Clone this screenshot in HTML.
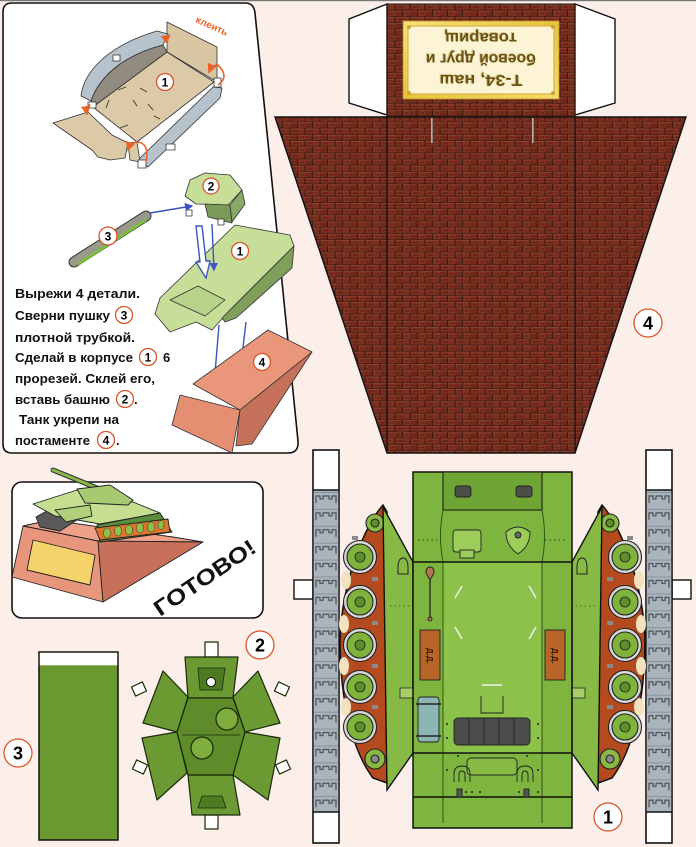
<!DOCTYPE html>
<html><head><meta charset="utf-8"><style>
html,body{margin:0;padding:0;background:#fcefe9;}
svg{display:block;}
text{font-family:"Liberation Sans","DejaVu Sans",sans-serif;}
</style></head><body>
<svg width="696" height="847" viewBox="0 0 696 847" xmlns="http://www.w3.org/2000/svg">
<defs>
<pattern id="brick" width="15" height="12.4" patternUnits="userSpaceOnUse" x="275" y="4">
<rect width="15" height="12.4" fill="#3c1c14"/>
<rect x="0.6" y="0.6" width="13.8" height="5.3" fill="#7c2e1e"/>
<rect x="-6.9" y="6.8" width="13.8" height="5.3" fill="#70281a"/>
<rect x="8.1" y="6.8" width="13.8" height="5.3" fill="#833221"/>
<path d="M0.6,0.9 h13.8 M-6.9,7.1 h13.8 M8.1,7.1 h13.8" stroke="#a24d38" stroke-width="0.6"/>
<rect x="3" y="2" width="5" height="2" fill="#5a2016" opacity="0.6"/>
<rect x="10" y="8.5" width="4" height="2" fill="#5a2016" opacity="0.6"/>
</pattern>
<pattern id="tread" x="313" y="490" width="26" height="16.9" patternUnits="userSpaceOnUse">
<rect width="26" height="16.9" fill="#a9b4bc"/>
<path d="M3,13 V6 h4 v3 h3 v-3 h6 v3 h3 v-3 h4 V13" fill="none" stroke="#4b5157" stroke-width="1.2"/>
<path d="M0,2.5 h26" stroke="#7d878f" stroke-width="0.8"/>
</pattern>
<linearGradient id="gold" x1="0" y1="0" x2="1" y2="1">
<stop offset="0" stop-color="#f7e27a"/><stop offset="0.5" stop-color="#e8c43c"/><stop offset="1" stop-color="#f5dc6a"/>
</linearGradient>
<marker id="ah" markerWidth="6" markerHeight="6" refX="5" refY="3" orient="auto"><path d="M0,0 L6,3 L0,6 Z" fill="#3b55c0"/></marker>
<marker id="oh" markerWidth="6" markerHeight="6" refX="5" refY="3" orient="auto"><path d="M0,0 L6,3 L0,6 Z" fill="#e8642a"/></marker>
</defs>

<rect width="696" height="847" fill="#fcefe9"/>
<rect width="696" height="1.2" fill="#777"/>

<!-- ===== Instruction panel ===== -->
<path d="M3,12 Q3,3 12,3 L245,3 Q254,3 255,13 L298,441 Q299,453 288,453 L12,453 Q3,453 3,444 Z" fill="#fff" stroke="#111" stroke-width="1.6"/>

<!-- flat hull net (tan) -->
<g stroke="#333" stroke-width="0.8" stroke-linejoin="round">
<path d="M167,22 L217,47 L217,82 L167,52 Z" fill="#d8c5a2"/>
<path d="M81,96 C84,70 110,45 157,31 L168,34 L163,45 C125,55 100,75 91,101 Z" fill="#b7c3cc"/>
<path d="M91,101 C100,75 125,55 163,45 L167,52 L93,107 Z" fill="#918b80"/>
<path d="M93,107 L167,52 L214,82 L137,142 Z" fill="#dcc9a8"/>
<path d="M138,160 L213,87 L222,88 L220,98 L148,167 Z" fill="#b7c3cc"/>
<path d="M53,123 L88,112 L112,135 L128,143 L125,158 L110,160 L98,157 L92,150 L63,130 Z" fill="#dcc9a8"/>
<path d="M128,143 L137,142 L140,162 L130,160 Z" fill="#dcc9a8"/>
<rect x="138" y="160" width="8" height="8" fill="#fff"/>
<rect x="166" y="144" width="9" height="6" fill="#fff"/>
<rect x="113" y="55" width="7" height="6" fill="#fff"/>
<rect x="88" y="102" width="8" height="6" fill="#fff"/>
<rect x="214" y="78" width="7" height="9" fill="#fff"/>
</g>
<g stroke="#333" stroke-width="0.9" fill="none">
<path d="M118,90 l8,-3 M140,88 l7,4 M106,108 l3,-8 M148,104 l5,6 M120,128 l8,-3 M154,116 l6,3 M133,100 l4,6"/>
</g>
<g fill="none" stroke="#e8642a" stroke-width="1.6">
<path d="M170,36 q-4,2 -3,7" marker-end="url(#oh)"/>
<path d="M218,85 q12,-8 0,-20 q-6,0 -9,7" marker-end="url(#oh)"/>
<path d="M90,104 q-4,4 -3,10" marker-end="url(#oh)"/>
<path d="M146,162 q4,-20 -10,-20 q-6,2 -8,8" marker-end="url(#oh)"/>
</g>
<text x="195" y="22" font-size="10" font-weight="bold" fill="#e8642a" transform="rotate(24 195 22)">клеить</text>
<circle cx="165" cy="82" r="8.5" fill="#fff" stroke="#d9542a" stroke-width="1.3"/>
<text x="165" y="86.5" font-size="12" font-weight="bold" text-anchor="middle">1</text>

<!-- turret 3D -->
<g stroke="#333" stroke-width="0.8" stroke-linejoin="round">
<path d="M190,180 L205,173 L230,175 L242,190 L228,205 L196,204 L185,196 Z" fill="#c6de98"/>
<path d="M205,204 L230,205 L232,223 L208,217 Z" fill="#7a9a5a"/>
<path d="M230,205 L242,190 L245,204 L232,222 Z" fill="#8aa866"/>
<rect x="186" y="210" width="6" height="6" fill="#fff"/>
<rect x="218" y="219" width="6" height="6" fill="#fff"/>
</g>
<circle cx="211" cy="186" r="8" fill="#fff" stroke="#d9542a" stroke-width="1.3"/>
<text x="211" y="190.5" font-size="12" font-weight="bold" text-anchor="middle">2</text>
<!-- gun roll -->
<path d="M74,262 L146,216" stroke="#333" stroke-width="11" stroke-linecap="round"/>
<path d="M74,262 L146,216" stroke="#9a9a8a" stroke-width="9" stroke-linecap="round"/>
<path d="M78,264 L146,220" stroke="#7bbd3f" stroke-width="3"/>
<circle cx="108" cy="236" r="9" fill="#fff" stroke="#d9542a" stroke-width="1.3"/>
<text x="108" y="240.5" font-size="12" font-weight="bold" text-anchor="middle">3</text>
<!-- hull 3D -->
<g stroke="#333" stroke-width="0.8" stroke-linejoin="round">
<path d="M160,298 L235,225 L290,235 L294,246 L230,310 L212,330 L196,322 L170,332 L155,314 Z" fill="#c6de98"/>
<path d="M222,318 L294,246 L292,268 L236,318 L225,322 Z" fill="#7f9f5a"/>
<path d="M170,300 L198,286 L225,300 L205,316 Z" fill="#b7d289"/>
</g>
<circle cx="240" cy="251" r="8.5" fill="#fff" stroke="#d9542a" stroke-width="1.3"/>
<text x="240" y="255.5" font-size="12" font-weight="bold" text-anchor="middle">1</text>
<!-- blue arrows -->
<g stroke="#3b55c0" stroke-width="1.4" fill="none">
<path d="M150,213 L192,206" marker-end="url(#ah)"/>
<path d="M212,224 L214,270" marker-end="url(#ah)"/>
<path d="M219,325 L214,385" marker-end="url(#ah)"/>
<path d="M246,322 L237,398" marker-end="url(#ah)"/>
<path d="M196,226 L200,262 L196,262 L206,278 L210,261 L206,261 L202,226 Z" fill="#fff"/>
</g>
<!-- pedestal 3D -->
<g stroke="#333" stroke-width="0.8" stroke-linejoin="round">
<path d="M193,384 L268,330 L312,352 L240,410 Z" fill="#e9967a"/>
<path d="M180,395 L240,410 L232,453 L172,425 Z" fill="#e58f72"/>
<path d="M240,410 L312,352 L252,444 L236,446 Z" fill="#c4705a"/>
</g>
<circle cx="262" cy="362" r="8.5" fill="#fff" stroke="#d9542a" stroke-width="1.3"/>
<text x="262" y="366.5" font-size="12" font-weight="bold" text-anchor="middle">4</text>

<!-- instruction text -->
<g font-size="13" font-weight="bold" fill="#111">
<text x="15" y="298" textLength="125" lengthAdjust="spacingAndGlyphs">Вырежи 4 детали.</text>
<text x="15" y="320" textLength="95" lengthAdjust="spacingAndGlyphs">Сверни пушку</text>
<text x="15" y="342" textLength="120" lengthAdjust="spacingAndGlyphs">плотной трубкой.</text>
<text x="15" y="362" textLength="118" lengthAdjust="spacingAndGlyphs">Сделай в корпусе</text>
<text x="163" y="362">6</text>
<text x="15" y="383" textLength="140" lengthAdjust="spacingAndGlyphs">прорезей. Склей его,</text>
<text x="15" y="404" textLength="95" lengthAdjust="spacingAndGlyphs">вставь башню</text>
<text x="134" y="404">.</text>
<text x="19" y="424" textLength="100" lengthAdjust="spacingAndGlyphs">Танк укрепи на</text>
<text x="15" y="445" textLength="75" lengthAdjust="spacingAndGlyphs">постаменте</text>
<text x="116" y="445">.</text>
</g>
<g font-size="12" font-weight="bold" text-anchor="middle">
<circle cx="124" cy="315" r="8.5" fill="#fff" stroke="#d9542a" stroke-width="1.3"/><text x="124" y="319.5">3</text>
<circle cx="148" cy="357" r="8.5" fill="#fff" stroke="#d9542a" stroke-width="1.3"/><text x="148" y="361.5">1</text>
<circle cx="125" cy="399" r="8.5" fill="#fff" stroke="#d9542a" stroke-width="1.3"/><text x="125" y="403.5">2</text>
<circle cx="106" cy="440" r="8.5" fill="#fff" stroke="#d9542a" stroke-width="1.3"/><text x="106" y="444.5">4</text>
</g>

<!-- ===== Brick pedestal net ④ ===== -->
<path d="M387,4 L349,19 L349,103 L387,115 Z" fill="#fff" stroke="#111" stroke-width="1.4"/>
<path d="M575,4 L615,19 L615,103 L575,115 Z" fill="#fff" stroke="#111" stroke-width="1.4"/>
<rect x="387" y="4" width="188" height="113" fill="url(#brick)" stroke="#111" stroke-width="1"/>
<path d="M275,117 L686,117 L575,453 L387,453 Z" fill="url(#brick)" stroke="#111" stroke-width="1.4"/>
<path d="M387,117 V453 M575,117 V453" stroke="#111" stroke-width="1.2"/>
<path d="M432,118 V143 M533,118 V143" stroke="#ddd" stroke-width="1.4"/>
<path d="M432,118 V143 M533,118 V143" stroke="#111" stroke-width="0.4" transform="translate(0.8,0)"/>
<!-- plaque -->
<rect x="403" y="21" width="156" height="78" fill="url(#gold)" stroke="#b8922a" stroke-width="0.8"/>
<rect x="408" y="26" width="146" height="68" rx="3" fill="#fcf4d4" stroke="#d8b448" stroke-width="1.2"/>
<g fill="#c9a235"><circle cx="409" cy="27" r="2"/><circle cx="553" cy="27" r="2"/><circle cx="409" cy="93" r="2"/><circle cx="553" cy="93" r="2"/></g>
<g transform="rotate(180 481 60)" font-size="16" font-weight="bold" text-anchor="middle">
<text x="482" y="46" fill="#d8c89a" textLength="83" lengthAdjust="spacingAndGlyphs">Т-34, наш</text>
<text x="481" y="45" fill="#6a5410" textLength="83" lengthAdjust="spacingAndGlyphs">Т-34, наш</text>
<text x="482" y="67" fill="#d8c89a" textLength="110" lengthAdjust="spacingAndGlyphs">боевой друг и</text>
<text x="481" y="66" fill="#6a5410" textLength="110" lengthAdjust="spacingAndGlyphs">боевой друг и</text>
<text x="482" y="88" fill="#d8c89a" textLength="72" lengthAdjust="spacingAndGlyphs">товарищ</text>
<text x="481" y="87" fill="#6a5410" textLength="72" lengthAdjust="spacingAndGlyphs">товарищ</text>
</g>
<circle cx="648" cy="323" r="14" fill="#fff" stroke="#d9542a" stroke-width="1.3"/>
<text x="648" y="329.5" font-size="18" font-weight="bold" text-anchor="middle">4</text>

<!-- ===== ГОТОВО panel ===== -->
<rect x="12" y="482" width="251" height="136" rx="10" fill="#fff" stroke="#111" stroke-width="1.6"/>
<g stroke="#222" stroke-width="0.9" stroke-linejoin="round">
<path d="M23,526 L50,520 L173,537 L203,542 L98,541 Z" fill="#eda08a"/>
<path d="M23,526 L98,541 L103,602 L12,577 Z" fill="#e8967b"/>
<path d="M98,541 L203,542 L103,602 Z" fill="#c9705a"/>
<path d="M33,540 L95,555 L90,585 L27,570 Z" fill="#f5d36a"/>
<!-- tank -->
<path d="M53,470 L97,488" stroke="#333" stroke-width="5" stroke-linecap="round"/>
<path d="M53,470 L97,488" stroke="#8ab64a" stroke-width="3" stroke-linecap="round"/>
<path d="M36,517 L52,508 L80,518 L60,531 L40,527 Z" fill="#5a5a58"/>
<path d="M33,504 L77,490 L133,502 L160,513 L100,524 L55,516 Z" fill="#c5de8f"/>
<path d="M77,489 L110,485 L133,500 L128,505 L85,503 Z" fill="#a7c970"/>
<path d="M55,510 L90,505 L92,516 L66,522 Z" fill="#b1d07a"/>
<path d="M97,525 L160,513 L172,532 L100,542 Z" fill="#5a8e3a"/>
<path d="M95,528 L168,519 L170,532 L100,540 Z" fill="#d9762e"/>
</g>
<g fill="#8ec14b" stroke="#333" stroke-width="0.5">
<ellipse cx="107" cy="533" rx="3.5" ry="5"/><ellipse cx="118" cy="531" rx="3.5" ry="5"/><ellipse cx="129" cy="530" rx="3.5" ry="5"/><ellipse cx="140" cy="528" rx="3.5" ry="5"/><ellipse cx="151" cy="527" rx="3.5" ry="5"/><ellipse cx="161" cy="525" rx="3" ry="4.5"/>
</g>
<text x="160" y="617" font-size="22" font-weight="bold" fill="#111" transform="rotate(-34 160 617)" textLength="118" lengthAdjust="spacingAndGlyphs">ГОТОВО!</text>

<!-- ===== gun strip ③ ===== -->
<rect x="39" y="652" width="79" height="188" fill="#6a9a2f" stroke="#111" stroke-width="1.5"/>
<rect x="39.8" y="652.8" width="77.4" height="12.5" fill="#fff"/>
<circle cx="18" cy="753" r="14" fill="#fff" stroke="#d9542a" stroke-width="1.3"/>
<text x="18" y="759.5" font-size="18" font-weight="bold" text-anchor="middle">3</text>

<!-- ===== turret net ② ===== -->
<g stroke="#1a2a0a" stroke-width="1.2" stroke-linejoin="round">
<rect x="205" y="642" width="13" height="15" fill="#fff"/>
<rect x="205" y="815" width="13" height="14" fill="#fff"/>
<rect x="133" y="684" width="12" height="10" fill="#fff" transform="rotate(-25 139 689)"/>
<rect x="134" y="762" width="12" height="10" fill="#fff" transform="rotate(25 140 767)"/>
<rect x="276" y="684" width="12" height="10" fill="#fff" transform="rotate(25 282 689)"/>
<rect x="277" y="762" width="12" height="10" fill="#fff" transform="rotate(-25 283 767)"/>
<path d="M185,657 L238,657 L233,698 L188,698 Z" fill="#6c9a32"/>
<path d="M188,775 L233,775 L240,815 L192,815 Z" fill="#6c9a32"/>
<path d="M163,671 L188,697 L177,732 L143,723 Z" fill="#6c9a32"/>
<path d="M142,738 L177,732 L187,773 L157,800 Z" fill="#6c9a32"/>
<path d="M258,671 L233,697 L245,732 L280,723 Z" fill="#6c9a32"/>
<path d="M280,738 L245,732 L233,775 L268,800 Z" fill="#6c9a32"/>
<path d="M188,698 L233,698 L245,732 L233,775 L188,775 L177,732 Z" fill="#5f8c2a"/>
<path d="M198,668 L225,668 L222,690 L200,690 Z" fill="#4e7a22" stroke-width="0.8"/>
<path d="M198,808 L202,796 L222,796 L226,808 Z" fill="#4e7a22" stroke-width="0.8"/>
<path d="M182,735 L240,735" fill="none" stroke-width="0.8"/>
<circle cx="227" cy="719" r="11" fill="#7fae3e"/>
<circle cx="202" cy="748" r="11" fill="#7fae3e"/>
</g>
<circle cx="211" cy="682" r="4.5" fill="#fff" stroke="#111" stroke-width="1"/>
<circle cx="260" cy="645" r="14" fill="#fff" stroke="#d9542a" stroke-width="1.3"/>
<text x="260" y="651.5" font-size="18" font-weight="bold" text-anchor="middle">2</text>

<!-- ===== hull net ① ===== -->
<g id="side">
<rect x="294" y="580" width="19" height="19" fill="#fff" stroke="#111" stroke-width="1.4"/>
<rect x="313" y="450" width="26" height="393" fill="#fff" stroke="#111" stroke-width="1.6"/>
<rect x="313.8" y="490" width="24.4" height="322" fill="url(#tread)"/>
<path d="M313,490 H339 M313,812 H339" stroke="#111" stroke-width="1.4"/>
<path d="M383,505 C365,525 342,580 340,640 C340,700 352,750 373,778 L387,783 L387,512 Z" fill="#b54a1e" stroke="#111" stroke-width="1.5"/>
<g fill="#f2e2c0">
<ellipse cx="346" cy="580" rx="5" ry="9"/><ellipse cx="344" cy="624" rx="5" ry="9"/><ellipse cx="344" cy="666" rx="5" ry="9"/><ellipse cx="346" cy="707" rx="5" ry="9"/>
</g>
<g fill="#8a8a8a"><rect x="372" y="577" width="6" height="4"/><rect x="372" y="621" width="6" height="4"/><rect x="372" y="664" width="6" height="4"/><rect x="372" y="705" width="6" height="4"/><rect x="352" y="536" width="6" height="4"/></g>
<g stroke="#222" stroke-width="1.1">
<circle cx="375" cy="523" r="9" fill="#8ab845"/><circle cx="375" cy="523" r="4" fill="#5d8f2a"/>
<circle cx="375" cy="759" r="10" fill="#8ab845"/><circle cx="375" cy="759" r="4" fill="#888"/>
<g fill="#d8d8d8"><circle cx="360" cy="557" r="16.5"/><circle cx="360" cy="602" r="16.5"/><circle cx="360" cy="645" r="16.5"/><circle cx="360" cy="687" r="16.5"/><circle cx="360" cy="727" r="16.5"/></g>
<g fill="#7fb33c"><circle cx="360" cy="557" r="13"/><circle cx="360" cy="602" r="13"/><circle cx="360" cy="645" r="13"/><circle cx="360" cy="687" r="13"/><circle cx="360" cy="727" r="13"/></g>
<g fill="#5d8f2a" stroke-width="0.8"><circle cx="360" cy="557" r="5"/><circle cx="360" cy="602" r="5"/><circle cx="360" cy="645" r="5"/><circle cx="360" cy="687" r="5"/><circle cx="360" cy="727" r="5"/></g>
</g>
<path d="M383,507 L413,562 L413,753 L387,790 Z" fill="#86ba45" stroke="#111" stroke-width="1.4"/>
<path d="M398,568 q0,-10 5,-10 q5,0 5,10 v6 h-10 Z" fill="none" stroke="#222" stroke-width="1"/>
<path d="M400,688 h13 v10 h-13 Z" fill="#a6d065" stroke="#222" stroke-width="0.8"/>
<path d="M390,606 h22" stroke="#2d4a12" stroke-width="0.8" stroke-dasharray="1.5 3"/>
</g>
<use href="#side" transform="translate(985,0) scale(-1,1)"/>

<rect x="413" y="472" width="159" height="356" fill="#7db53f" stroke="#111" stroke-width="1.5"/>
<rect x="443" y="562" width="99" height="191" fill="#8cc24a"/>
<rect x="443" y="472" width="99" height="38" fill="#6fa535" stroke="#111" stroke-width="1"/>
<g fill="none" stroke="#2d4a12" stroke-width="0.9">
<path d="M443,510 Q438,536 443,562 M542,510 Q547,536 542,562"/>
<path d="M443,562 V823 M542,562 V823"/>
<path d="M418,540 h22 M545,540 h22" stroke-dasharray="1.5 3"/>
</g>
<path d="M413,562 H572 M413,753 H572 M413,797 H572" stroke="#111" stroke-width="1.4"/>
<g stroke="#222" stroke-width="0.9">
<rect x="455" y="486" width="16" height="11" rx="3" fill="#4a4f48"/>
<rect x="516" y="486" width="16" height="11" rx="3" fill="#4a4f48"/>
<rect x="453" y="530" width="28" height="22" rx="3" fill="#9ccc5a"/>
<rect x="460" y="550" width="14" height="8" fill="#9ccc5a"/>
<path d="M506,532 q12,-10 24,0 q0,14 -12,22 q-12,-8 -12,-22 Z" fill="#9ccc5a"/>
<circle cx="518" cy="535" r="3" fill="#6a6a6a"/>
<path d="M426,573 q0,-6 4,-6 q4,0 4,6 l-4,7 Z" fill="#b07858"/>
<path d="M430,580 V617" stroke-width="1.3"/>
<circle cx="430" cy="619" r="2" fill="#b07858"/>
<rect x="420" y="630" width="20" height="50" fill="#b8652a"/>
<rect x="545" y="630" width="20" height="50" fill="#b8652a"/>
<rect x="418" y="697" width="21" height="45" rx="3" fill="#8ab6b4"/>
<path d="M416,704 h25 M416,736 h25" stroke-width="1.6"/>
<rect x="454" y="718" width="76" height="27" rx="4" fill="#4c4c4c"/>
<path d="M469,718 V745 M484,718 V745 M499,718 V745 M514,718 V745" stroke="#222"/>
<path d="M481,696 V713 h22 V696" fill="#8cc24a"/>
<rect x="467" y="758" width="50" height="17" rx="4" fill="#86ba45"/>
<path d="M454,782 v-8 q0,-8 8,-8 q8,0 8,8 v8 M459,782 v-7 q0,-4 3,-4 q3,0 3,4 v7" fill="none"/>
<path d="M517,782 v-8 q0,-8 8,-8 q8,0 8,8 v8 M522,782 v-7 q0,-4 3,-4 q3,0 3,4 v7" fill="none"/>
<rect x="457" y="789" width="5" height="8" fill="#555"/>
<rect x="524" y="789" width="5" height="8" fill="#555"/>
<path d="M482,685 h20" stroke="#eee" stroke-width="1.5"/>
<path d="M455,598 l7,-12 M529,586 l7,12 M455,627 l7,12 M529,639 l7,-12" stroke="#eee" stroke-width="1.5"/>
</g>
<g fill="#222">
<circle cx="447" cy="724" r="1"/><circle cx="447" cy="738" r="1"/><circle cx="538" cy="724" r="1"/><circle cx="538" cy="738" r="1"/>
<circle cx="458" cy="756" r="1"/><circle cx="527" cy="756" r="1"/><circle cx="447" cy="770" r="1"/><circle cx="538" cy="770" r="1"/>
<circle cx="466" cy="792" r="1"/><circle cx="472" cy="792" r="1"/><circle cx="480" cy="792" r="1"/><circle cx="519" cy="792" r="1"/><circle cx="538" cy="792" r="1"/>
</g>
<text x="0" y="0" font-size="8" font-weight="bold" fill="#3a1a08" transform="translate(427,648) rotate(90)">Д.Д.</text>
<text x="0" y="0" font-size="8" font-weight="bold" fill="#3a1a08" transform="translate(552,648) rotate(90)">Д.Д.</text>
<circle cx="608" cy="817" r="14" fill="#fff" stroke="#d9542a" stroke-width="1.3"/>
<text x="608" y="823.5" font-size="18" font-weight="bold" text-anchor="middle">1</text>
</svg>
</body></html>
